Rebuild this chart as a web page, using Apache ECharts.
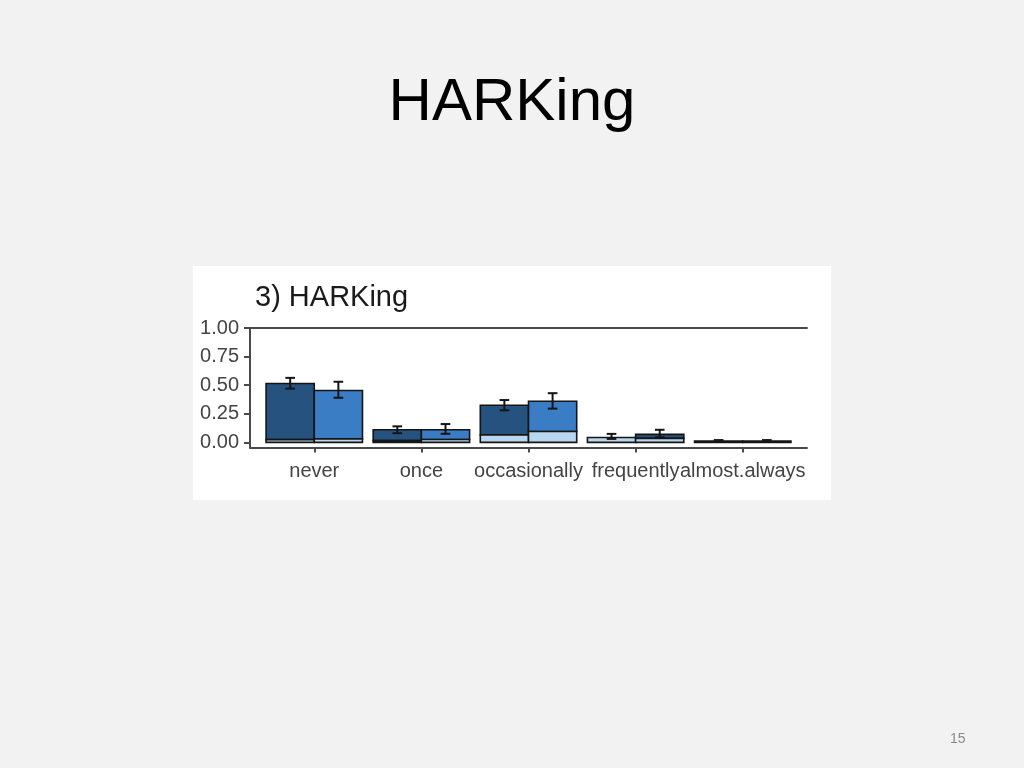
<!DOCTYPE html>
<html>

<head>
    <meta charset="UTF-8" />
    <title>HARKing</title>
    <script src="https://cdn.jsdelivr.net/npm/echarts@6/dist/echarts.min.js"></script>
    <style>
        html, body { margin: 0; padding: 0; background: #f2f2f2; }
        #main { width: 1024px; height: 768px; }
    </style>
</head>

<body>
    <div id="main"></div>

    <script type="text/javascript">
        // categories on the x axis
        let categories = ['never', 'once', 'occasionally', 'frequently', 'almost.always'];
        let yTicks = [0, 0.25, 0.5, 0.75, 1];

        // left (dark) bars: total height and the light bottom segment
        let darkTotal = [0.515, 0.11, 0.325, 0.042, 0.012];
        let darkLower = [0.024, 0.015, 0.065, 0.042, 0];
        let darkErrLow = [0.47, 0.08, 0.28, 0.03, 0.006];
        let darkErrHigh = [0.564, 0.14, 0.37, 0.074, 0.02];

        // right (blue) bars
        let blueTotal = [0.453, 0.11, 0.36, 0.07, 0.012];
        let blueLower = [0.03, 0.025, 0.095, 0.035, 0];
        let blueErrLow = [0.39, 0.075, 0.295, 0.045, 0.006];
        let blueErrHigh = [0.53, 0.16, 0.43, 0.11, 0.02];

        // fill colours of the upper segment (style only)
        let darkUpperColor = ['#26527f', '#26527f', '#26527f', '#26527f', '#26527f'];
        let blueUpperColor = ['#3b7dc4', '#3b7dc4', '#3b7dc4', '#26527f', '#3b7dc4'];
        let lightColor = '#bad6ee';
        let edge = '#151515';

        let barWidth = 0.45;

        let barData = [];
        let errData = [];
        categories.forEach((c, i) => {
            barData.push([i, 0, darkLower[i], darkTotal[i]]);
            barData.push([i, 1, blueLower[i], blueTotal[i]]);
            errData.push([i, 0, darkErrLow[i], darkErrHigh[i]]);
            errData.push([i, 1, blueErrLow[i], blueErrHigh[i]]);
        });

        let renderBar = (params, api) => {
            let x = api.value(0);
            let g = api.value(1);
            let lo = api.value(2);
            let tot = api.value(3);
            let x0 = x - barWidth + g * barWidth;
            let pBase = api.coord([x0, 0]);
            let pLo = api.coord([x0, lo]);
            let pTop = api.coord([x0 + barWidth, tot]);
            let w = pTop[0] - pBase[0];
            let upper = g === 0 ? darkUpperColor[x] : blueUpperColor[x];
            let children = [];
            if (tot > lo) {
                children.push({
                    type: 'rect',
                    shape: { x: pBase[0], y: pTop[1], width: w, height: pLo[1] - pTop[1] },
                    style: { fill: upper, stroke: edge, lineWidth: 1.6 }
                });
            }
            if (lo > 0) {
                children.push({
                    type: 'rect',
                    shape: { x: pBase[0], y: pLo[1], width: w, height: pBase[1] - pLo[1] },
                    style: { fill: lightColor, stroke: edge, lineWidth: 1.6 }
                });
            }
            return { type: 'group', children: children };
        };

        let renderErr = (params, api) => {
            let x = api.value(0);
            let g = api.value(1);
            let cx = x - barWidth / 2 + g * barWidth;
            let pLow = api.coord([cx, api.value(2)]);
            let pHigh = api.coord([cx, api.value(3)]);
            let half = api.size([0.045, 0])[0];
            let st = { stroke: edge, lineWidth: 2 };
            return {
                type: 'group',
                children: [
                    { type: 'line', shape: { x1: pLow[0], y1: pLow[1], x2: pHigh[0], y2: pHigh[1] }, style: st },
                    { type: 'line', shape: { x1: pLow[0] - half, y1: pLow[1], x2: pLow[0] + half, y2: pLow[1] }, style: st },
                    { type: 'line', shape: { x1: pHigh[0] - half, y1: pHigh[1], x2: pHigh[0] + half, y2: pHigh[1] }, style: st }
                ]
            };
        };

        let axisColor = '#4a4a4a';
        let labelColor = '#444444';
        let font = 'Liberation Sans';

        let chart = echarts.init(document.getElementById('main'));
        let option = {
            backgroundColor: '#f2f2f2',
            animation: false,
            graphic: [
                {
                    type: 'rect',
                    z: -10,
                    shape: { x: 193, y: 266, width: 638, height: 234 },
                    style: { fill: '#ffffff' }
                }
            ],
            title: [
                {
                    text: 'HARKing',
                    left: 'center',
                    top: 68,
                    textStyle: { fontFamily: font, fontSize: 60, fontWeight: 'normal', color: '#000000' }
                },
                {
                    text: '3) HARKing',
                    left: 250,
                    top: 278,
                    textStyle: { fontFamily: font, fontSize: 29, fontWeight: 'normal', color: '#1a1a1a' }
                },
                {
                    text: '15',
                    left: 945,
                    top: 727,
                    textStyle: { fontFamily: font, fontSize: 14, fontWeight: 'normal', color: '#8a8a8a' }
                }
            ],
            grid: {
                left: 250,
                right: 217,
                top: 328,
                height: 119.5
            },
            xAxis: [
                {
                    type: 'value',
                    min: -0.6,
                    max: 4.6,
                    splitLine: { show: false },
                    axisLine: { show: true, onZero: false, lineStyle: { color: axisColor, width: 2 } },
                    axisTick: { show: true, length: 5, customValues: [0, 1, 2, 3, 4], lineStyle: { color: axisColor, width: 2 } },
                    axisLabel: {
                        customValues: [0, 1, 2, 3, 4],
                        formatter: v => categories[Math.round(v)],
                        fontFamily: font,
                        fontSize: 20,
                        color: labelColor,
                        margin: 14
                    }
                },
                {
                    type: 'value',
                    position: 'top',
                    min: -0.6,
                    max: 4.6,
                    splitLine: { show: false },
                    axisLine: { show: true, onZero: false, lineStyle: { color: axisColor, width: 2 } },
                    axisTick: { show: false },
                    axisLabel: { show: false }
                }
            ],
            yAxis: {
                type: 'value',
                min: -0.045,
                max: 1,
                splitLine: { show: false },
                axisLine: { show: true, onZero: false, lineStyle: { color: axisColor, width: 2 } },
                axisTick: { show: true, length: 6, customValues: yTicks, lineStyle: { color: axisColor, width: 2 } },
                axisLabel: {
                    customValues: yTicks,
                    formatter: v => v.toFixed(2),
                    fontFamily: font,
                    fontSize: 20,
                    color: labelColor,
                    margin: 11
                }
            },
            series: [
                {
                    type: 'custom',
                    renderItem: renderBar,
                    data: barData,
                    encode: { x: 0, y: 3 },
                    z: 2
                },
                {
                    type: 'custom',
                    renderItem: renderErr,
                    data: errData,
                    encode: { x: 0, y: [2, 3] },
                    z: 3
                }
            ]
        };
        chart.setOption(option);
    </script>
</body>

</html>
